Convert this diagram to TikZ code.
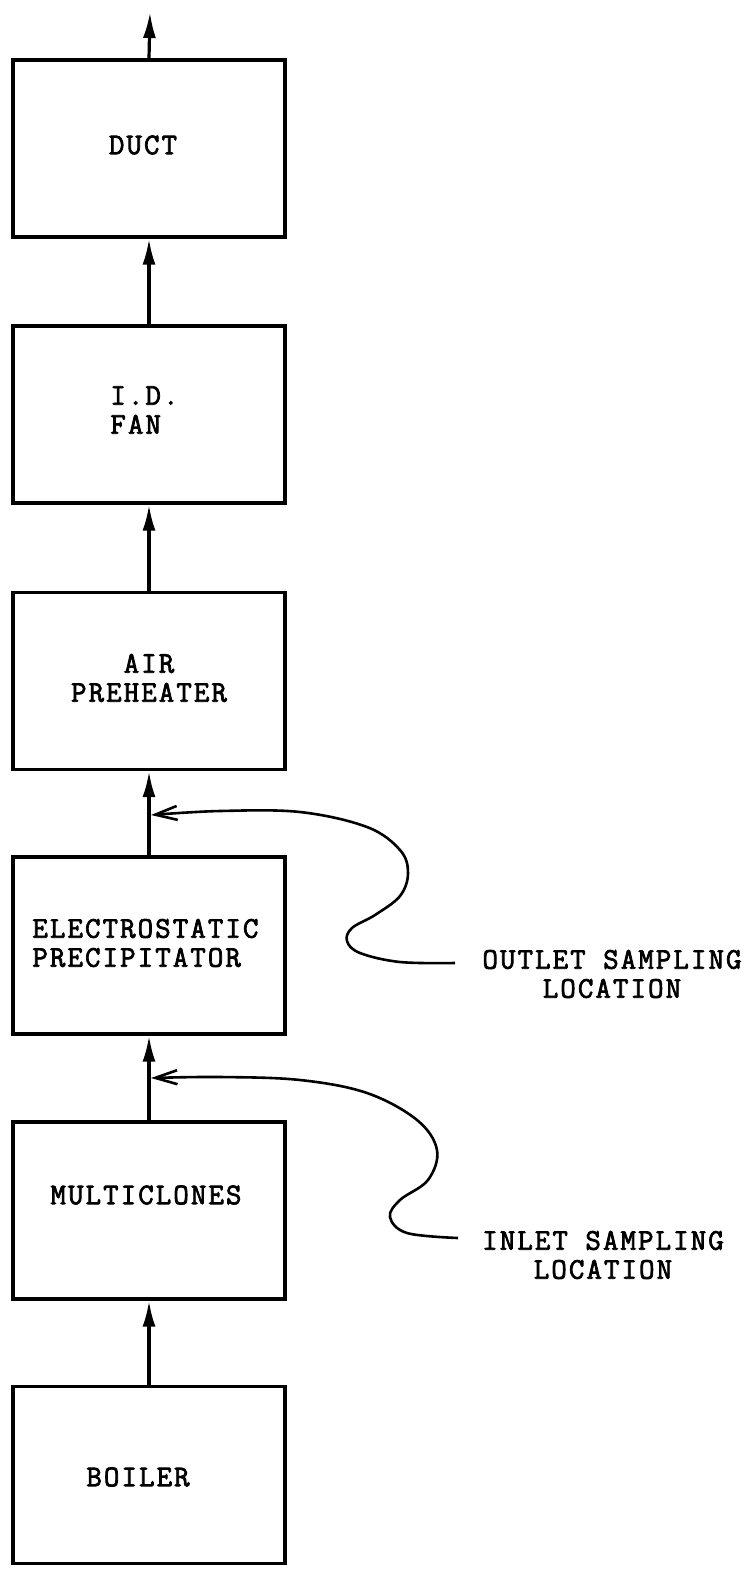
\documentclass[tikz,border=0pt]{standalone}
\usepackage{fontspec}
\newfontfamily\tw{Latin Modern Mono}[LetterSpace=7,FakeBold=2.5]
\usetikzlibrary{arrows.meta}
\begin{document}
\begin{tikzpicture}[x=0.5pt,y=-0.5pt,
  box/.style={draw,line width=1.6pt,minimum width=136pt,minimum height=88.5pt,inner sep=0pt},
  lbl/.style={font=\tw\fontsize{15}{14.5}\selectfont,inner sep=0pt},
  flow/.style={line width=1.6pt,-{Latex[length=13pt,width=6.5pt]}},
  probe/.style={line width=1.3pt,-{Straight Barb[length=11pt,width=7pt,line width=1.3pt]}}]
\useasboundingbox (0,0) rectangle (755,1569);
% boxes
\node[box] (duct) at (149,148.5) {};
\node[box] (fan) at (149,414.5) {};
\node[box] (aph) at (149,681) {};
\node[box] (esp) at (149,945.5) {};
\node[box] (mc) at (149,1210.5) {};
\node[box] (boiler) at (149,1475) {};
% texts
\node[lbl] (tduct) at (143,145) {DUCT};
\node[lbl,align=left,anchor=west] (tfan) at (110,410) {I.D.\\FAN};
\node[lbl,align=center] (taph) at (149,678) {AIR\\PREHEATER};
\node[lbl,align=left,anchor=west] (tesp) at (32,943) {ELECTROSTATIC\\PRECIPITATOR};
\node[lbl] (tmc) at (146,1195) {MULTICLONES};
\node[lbl] (tboiler) at (138,1477) {BOILER};
\node[lbl,align=center] (tout) at (612,974) {OUTLET SAMPLING\\LOCATION};
\node[lbl,align=center] (tin) at (603,1255) {INLET SAMPLING\\LOCATION};
% flow arrows
\coordinate (exit) at (150,12);
\draw[flow] (duct.north) -- (exit);
\draw[flow] (fan.north) -- (duct.south);
\draw[flow] (aph.north) -- (fan.south);
\draw[flow] (esp.north) -- (aph.south);
\draw[flow] (mc.north) -- (esp.south);
\draw[flow] (boiler.north) -- (mc.south);
% sampling locations
\coordinate (outj) at (151,815);
\coordinate (oend) at (455,963);
\draw[probe] plot[smooth,tension=0.6] coordinates {(oend) (400,962) (360,953) (347,941) (352,928) (375,915) (400,896) (408,873) (400,850) (367,827) (300,812) (220,811) (outj)};
\coordinate (inj) at (151,1078);
\coordinate (iend) at (458,1238);
\draw[probe] plot[smooth,tension=0.6] coordinates {(iend) (407,1233) (390,1217) (400,1200) (428,1180) (437,1150) (417,1120) (367,1093) (300,1080) (220,1077) (inj)};
\end{tikzpicture}
\end{document}
